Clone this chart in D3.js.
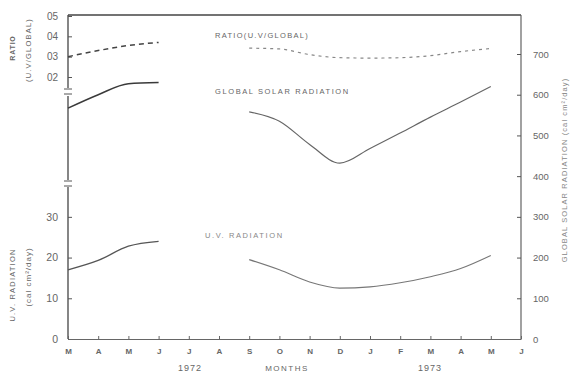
<!DOCTYPE html>
<html><head><meta charset="utf-8">
<script src="https://cdn.jsdelivr.net/npm/d3@7"></script>
<style>
body{margin:0;background:#fff;}
svg{display:block;font-family:"Liberation Sans",Arial,sans-serif;}
.tick text{fill:#666;}
</style></head><body>
<svg id="c" width="573" height="376"></svg>
<script>
// ---- data ----
const months = ["M","A","M","J","J","A","S","O","N","D","J","F","M","A","M","J"];
const idx1972 = [0,1,2,3];
const idx1973 = [6,7,8,9,10,11,12,13,14];
const ratio1972 = [0.30, 0.33, 0.355, 0.37];
const ratio1973 = [0.342, 0.338, 0.31, 0.295, 0.293, 0.295, 0.305, 0.325, 0.34];
const global1972 = [567, 600, 627, 630];
const global1973 = [558, 535, 478, 432, 468, 506, 545, 582, 620];
const uv1972 = [17, 19.3, 22.8, 24];
const uv1973 = [19.5, 17, 14, 12.5, 12.8, 13.8, 15.3, 17.3, 20.5];
const ratioTicks = [0.2, 0.3, 0.4, 0.5];
const uvTicks = [0, 10, 20, 30];
const globalTicks = [0, 100, 200, 300, 400, 500, 600, 700];

const svg = d3.select("#c");
const L = 68, R = 521, T = 15, B = 339;
const x = d3.scaleLinear().domain([0, 15]).range([L, R]);
const yG = d3.scaleLinear().domain([0, 700]).range([B, 54]);
const yUV = d3.scaleLinear().domain([0, 70]).range([B, 54]);
const yR = d3.scaleLinear().domain([0.2, 0.5]).range([77, 16]);

const axisCol = "#555";
// frame top and right
svg.append("line").attr("x1", L).attr("x2", R).attr("y1", T).attr("y2", T).attr("stroke", "#444").attr("stroke-width", 1.3);
svg.append("line").attr("x1", R).attr("x2", R).attr("y1", T).attr("y2", B).attr("stroke", "#555").attr("stroke-width", 1.1);
// left axis with breaks
[[T, 88], [96, 180], [187, B]].forEach(s => {
  svg.append("line").attr("x1", L).attr("x2", L).attr("y1", s[0]).attr("y2", s[1]).attr("stroke", "#444").attr("stroke-width", 1.3);
});
[89, 94, 181, 186].forEach(y => {
  svg.append("line").attr("x1", L - 4).attr("x2", L + 4).attr("y1", y).attr("y2", y).attr("stroke", "#555").attr("stroke-width", 1);
});

// axes
function style(g, size) {
  g.select(".domain").remove();
  g.selectAll(".tick line").attr("stroke", axisCol).attr("stroke-width", 1);
  g.selectAll(".tick text").attr("font-size", size);
}
svg.append("g").attr("transform", `translate(${L},0)`)
  .call(d3.axisLeft(yR).tickValues(ratioTicks).tickSizeInner(-4).tickSizeOuter(0).tickPadding(10)
    .tickFormat(d => d3.format(".1f")(d).replace(".", "")))
  .call(g => style(g, 10));
svg.append("g").attr("transform", `translate(${L},0)`)
  .call(d3.axisLeft(yUV).tickValues(uvTicks).tickSizeInner(-4).tickSizeOuter(0).tickPadding(10))
  .call(g => style(g, 10.5));
svg.append("g").attr("transform", `translate(${R},0)`)
  .call(d3.axisRight(yG).tickValues(globalTicks).tickSizeInner(-4).tickSizeOuter(0).tickPadding(12))
  .call(g => style(g, 9.5))
  .call(g => g.selectAll(".tick text").attr("fill", "#888"));
const xa = svg.append("g").attr("transform", `translate(0,${B})`)
  .call(d3.axisBottom(x).tickValues(d3.range(months.length)).tickSizeInner(-3).tickSizeOuter(0).tickPadding(9)
    .tickFormat(i => months[i]));
xa.select(".domain").attr("stroke", "#666").attr("stroke-width", 1.1);
xa.selectAll(".tick line").attr("stroke", "#666");
xa.selectAll(".tick text").attr("font-size", 8).attr("font-weight", "bold").attr("fill", "#666");

// series
function draw(idx, vals, yS, col, w, dash) {
  const line = d3.line().x(d => x(d[0])).y(d => yS(d[1])).curve(d3.curveMonotoneX);
  const p = svg.append("path").datum(idx.map((i, k) => [i, vals[k]]))
    .attr("d", line).attr("fill", "none").attr("stroke", col).attr("stroke-width", w);
  if (dash) p.attr("stroke-dasharray", dash);
}
draw(idx1972, ratio1972, yR, "#444", 1.5, "5,4");
draw(idx1973, ratio1973, yR, "#888", 1.2, "3,4");
draw(idx1972, global1972, yG, "#3a3a3a", 1.5);
draw(idx1973, global1973, yG, "#666", 1.2);
draw(idx1972, uv1972, yUV, "#555", 1.3);
draw(idx1973, uv1973, yUV, "#777", 1.1);

// labels in plot
function txt(t, xx, yy, size, opts = {}) {
  const e = svg.append("text").attr("x", xx).attr("y", yy).attr("font-size", size)
    .attr("fill", opts.fill || "#666").attr("letter-spacing", opts.ls || 1.2)
    .attr("text-anchor", opts.anchor || "start").attr("dominant-baseline", "middle").text(t);
  if (opts.rot) e.attr("transform", `rotate(-90,${xx},${yy})`);
  if (opts.bold) e.attr("font-weight", "bold");
  return e;
}
txt("RATIO(U.V/GLOBAL)", 215, 36, 7.5, {ls: 1.3});
txt("GLOBAL SOLAR RADIATION", 215, 92, 7.5, {ls: 1.6});
txt("U.V. RADIATION", 205, 236, 7.5, {ls: 1.6, fill: "#888"});

// axis titles
txt("RATIO", 13, 48, 7, {rot: true, anchor: "middle", bold: true, ls: 0.8});
txt("(U.V/GLOBAL)", 29, 50, 7.5, {rot: true, anchor: "middle", ls: 1.2});
txt("U.V. RADIATION", 13, 285, 7.5, {rot: true, anchor: "middle", ls: 1.2});
txt("(cal cm²/day)", 29, 277, 8, {rot: true, anchor: "middle", ls: 1});
txt("GLOBAL SOLAR RADIATION (cal cm²/day)", 565, 170, 7.5, {rot: true, anchor: "middle", ls: 1.1, fill: "#888"});

// x-axis titles
txt("1972", 190, 369, 9, {anchor: "middle", ls: 1});
txt("MONTHS", 287, 369, 8, {anchor: "middle", ls: 1.5});
txt("1973", 430, 369, 9, {anchor: "middle", ls: 1});
</script></body></html>
